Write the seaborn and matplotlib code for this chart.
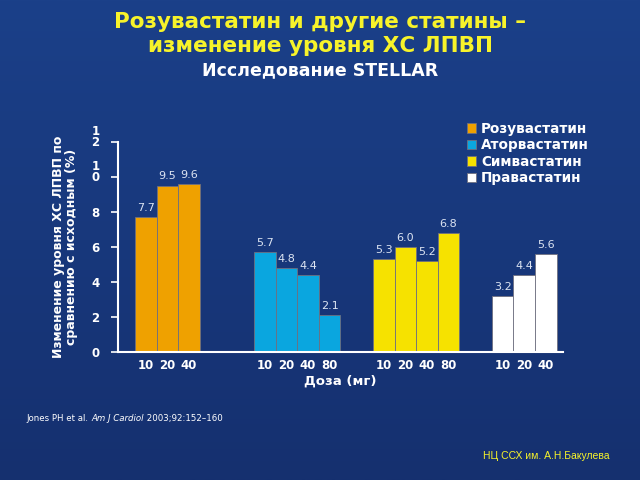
import numpy as np
import pandas as pd
import matplotlib
matplotlib.use("Agg")
import matplotlib.pyplot as plt
import seaborn as sns
from matplotlib.colors import LinearSegmentedColormap

# ---- data ----
drugs = ["Розувастатин", "Аторвастатин", "Симвастатин", "Правастатин"]
doses = [[10, 20, 40], [10, 20, 40, 80], [10, 20, 40, 80], [10, 20, 40]]
values = [[7.7, 9.5, 9.6], [5.7, 4.8, 4.4, 2.1], [5.3, 6.0, 5.2, 6.8], [3.2, 4.4, 5.6]]
colors = ["#EFA100", "#0AA6DF", "#F6E200", "#FFFFFF"]
ytick_vals = [0, 2, 4, 6, 8, 10, 12]
ytick_labels = ["0", "2", "4", "6", "8", "1\n0", "1\n2"]

# group layout (empty space before each group, in bar widths)
gaps = [0, 2.5, 1.5, 1.5]
rows = []
pos = 0.0
for g, (d, ds, vs) in enumerate(zip(drugs, doses, values)):
    pos += gaps[g]
    for dose, v in zip(ds, vs):
        rows.append({"drug": d, "dose": dose, "value": v, "pos": pos})
        pos += 1
df = pd.DataFrame(rows)

sns.set_theme(style="white")
plt.rcParams["font.family"] = ["DejaVu Sans"]

fig = plt.figure(figsize=(6.4, 4.8), dpi=100)
# background gradient
bg = fig.add_axes([0, 0, 1, 1], zorder=-10)
grad = np.linspace(0, 1, 256).reshape(-1, 1)
cmap = LinearSegmentedColormap.from_list("bg", ["#1B4089", "#15306F"])
bg.imshow(grad, aspect="auto", cmap=cmap, extent=[0, 1, 0, 1])
bg.axis("off")

ax = fig.add_axes([0.184, 0.267, 0.696, 0.4375])
ax.set_facecolor("none")
sns.barplot(data=df, x="pos", y="value", hue="drug", hue_order=drugs,
            palette=dict(zip(drugs, colors)), native_scale=True, dodge=False,
            width=1.0, edgecolor="#6f7080", linewidth=0.6, ax=ax, legend=True,
            saturation=1)

for cont in ax.containers:
    ax.bar_label(cont, fmt="%.1f", padding=3, color="#DCE4F2", fontsize=8)

ax.set_xlim(-1.3, 19.3)
ax.set_ylim(0, 12)
ax.set_yticks(ytick_vals)
# two-line labels: keep the last line level with the tick (as in the original slide)
ax.set_yticklabels([l + "\n" if "\n" in l else l for l in ytick_labels],
                   color="white", fontsize=8.5, fontweight="bold", linespacing=0.8)
ax.set_xticks(df["pos"])
ax.set_xticklabels(df["dose"].astype(str), color="white", fontsize=8.5, fontweight="bold")
ax.tick_params(axis="y", length=5, width=1.2, color="white", left=True, pad=8)
ax.tick_params(axis="x", length=0, pad=5)
for s in ["top", "right"]:
    ax.spines[s].set_visible(False)
for s in ["left", "bottom"]:
    ax.spines[s].set_color("white")
    ax.spines[s].set_linewidth(1.5)
ax.set_xlabel("Доза (мг)", color="white", fontsize=9.5, fontweight="bold", labelpad=2)
ax.set_ylabel("Изменение уровня ХС ЛПВП по\nсравнению с исходным (%)", color="white",
              fontsize=9, fontweight="bold", labelpad=10, linespacing=1.0)
ax.grid(False)

leg = ax.legend(loc="upper left", bbox_to_anchor=(0.71, 0.772), bbox_transform=fig.transFigure,
                frameon=False, handlelength=0.7, handleheight=0.7, handletextpad=0.35,
                labelspacing=0.18, prop={"weight": "bold", "size": 9.8})
for t in leg.get_texts():
    t.set_color("white")

fig.text(0.5, 0.974, "Розувастатин и другие статины –\nизменение уровня ХС ЛПВП",
         ha="center", va="top", color="#F7F32A", fontsize=15.5, fontweight="bold",
         linespacing=1.25)
fig.text(0.5, 0.853, "Исследование STELLAR", ha="center", va="center", color="white",
         fontsize=12.5, fontweight="bold")

t1 = fig.text(0.042, 0.129, "Jones PH et al. ", ha="left", va="center", color="white", fontsize=6.2)
a2 = plt.annotate("Am J Cardiol", xy=(1, 0.5), xycoords=t1, va="center", ha="left",
                  color="white", fontsize=6.2, style="italic")
a3 = plt.annotate(" 2003;92:152–160", xy=(1, 0.5), xycoords=a2, va="center", ha="left",
                  color="white", fontsize=6.2)

fig.text(0.755, 0.05, "НЦ ССХ им. А.Н.Бакулева", ha="left", va="center",
         color="#F7F32A", fontsize=7.5, family="Liberation Sans")

fig.savefig("out.png", dpi=100)
